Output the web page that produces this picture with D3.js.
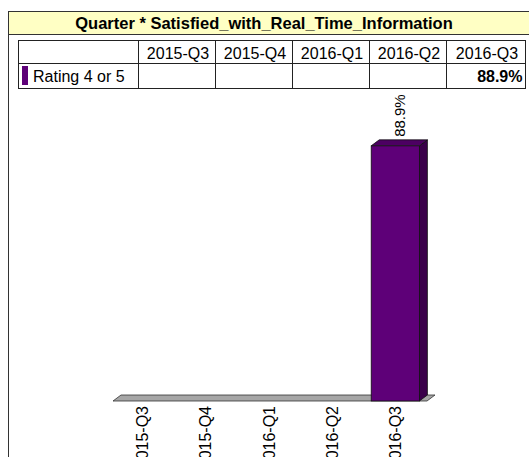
<!DOCTYPE html>
<html>
<head>
  <meta charset="utf-8">
  <script src="https://cdn.jsdelivr.net/npm/d3@7/dist/d3.min.js"></script>
  <style>
    body { margin: 0; background: white; }
    svg { display: block; font-family: "Liberation Sans", Arial, sans-serif; }
  </style>
</head>
<body>
  <svg id="chart" width="529" height="457"></svg>

  <script>
    var quarters = ['2015-Q3', '2015-Q4', '2016-Q1', '2016-Q2', '2016-Q3'];
    var seriesName = 'Rating 4 or 5';
    var values = [null, null, null, null, 88.9];  //percent, blank quarters have no value
    var title = 'Quarter * Satisfied_with_Real_Time_Information';

    var svg = d3.select('#chart');
    var purple = '#5e0078';
    var depth = [8, -6];  //3d offset of bars and floor

    //outer frame and title bar
    svg.append('rect')
      .attr('x', 8.5).attr('y', 11.5)
      .attr('width', 540).attr('height', 460)
      .attr('fill', 'white').attr('stroke', '#333');

    svg.append('rect')
      .attr('x', 8.5).attr('y', 11.5)
      .attr('width', 540).attr('height', 23)
      .attr('fill', '#ffffc4').attr('stroke', '#333');

    svg.append('text')
      .attr('x', 264).attr('y', 28.5)
      .attr('text-anchor', 'middle')
      .attr('font-size', 16.5).attr('font-weight', 'bold')
      .text(title);

    //data table
    var colX = [18.5, 138.5, 215.5, 292.5, 369.5, 446.5, 525.5];
    var rowY = [40.5, 63.5, 88.5];
    var table = svg.append('g');

    table.append('rect')
      .attr('x', colX[0]).attr('y', rowY[0])
      .attr('width', colX[6] - colX[0]).attr('height', rowY[2] - rowY[0])
      .attr('fill', 'white').attr('stroke', '#222');

    table.append('line')
      .attr('x1', colX[0]).attr('x2', colX[6])
      .attr('y1', rowY[1]).attr('y2', rowY[1])
      .attr('stroke', '#222');

    table.selectAll('.col-line')
      .data(colX.slice(1, 6))
      .enter().append('line')
      .attr('x1', d => d).attr('x2', d => d)
      .attr('y1', rowY[0]).attr('y2', rowY[2])
      .attr('stroke', '#222');

    table.selectAll('.head')
      .data(quarters)
      .enter().append('text')
      .attr('x', (d, i) => (colX[i + 1] + colX[i + 2]) / 2 + 1)
      .attr('y', 58.5)
      .attr('text-anchor', 'middle')
      .attr('font-size', 16)
      .text(d => d);

    table.append('rect')
      .attr('x', 22).attr('y', 66)
      .attr('width', 6).attr('height', 19)
      .attr('fill', purple);

    table.append('text')
      .attr('x', 33).attr('y', 82)
      .attr('font-size', 16)
      .text(seriesName);

    table.selectAll('.val')
      .data(values)
      .enter().append('text')
      .attr('x', (d, i) => colX[i + 2] - 3)
      .attr('y', 82)
      .attr('text-anchor', 'end')
      .attr('font-size', 16).attr('font-weight', 'bold')
      .text(d => d == null ? '' : d.toFixed(1) + '%');

    //scales
    var x = d3.scaleBand()
      .domain(quarters)
      .range([110, 427])
      .paddingInner(0.24)
      .paddingOuter(0.12);

    var y = d3.scaleLinear()
      .domain([0, 100])
      .range([401, 114]);

    //floor
    var fx0 = 113, fx1 = 427, fy = y(0);
    svg.append('path')
      .attr('d', `M${fx0},${fy}L${fx1},${fy}L${fx1 + depth[0]},${fy + depth[1]}L${fx0 + depth[0]},${fy + depth[1]}Z`)
      .attr('fill', '#a6a6a6').attr('stroke', '#333').attr('stroke-width', 0.8);

    //3d bars
    var bars = svg.selectAll('.bar')
      .data(quarters.map((q, i) => ({ q: q, v: values[i] })).filter(d => d.v != null))
      .enter().append('g');

    bars.append('path')  //side
      .attr('d', d => {
        var x1 = x(d.q) + x.bandwidth(), yt = y(d.v), yb = y(0);
        return `M${x1},${yt}L${x1 + depth[0]},${yt + depth[1]}L${x1 + depth[0]},${yb + depth[1]}L${x1},${yb}Z`;
      })
      .attr('fill', '#3a004a').attr('stroke', '#111').attr('stroke-width', 0.8);

    bars.append('path')  //top
      .attr('d', d => {
        var x0 = x(d.q), x1 = x0 + x.bandwidth(), yt = y(d.v);
        return `M${x0},${yt}L${x0 + depth[0]},${yt + depth[1]}L${x1 + depth[0]},${yt + depth[1]}L${x1},${yt}Z`;
      })
      .attr('fill', '#4c0062').attr('stroke', '#111').attr('stroke-width', 0.8);

    bars.append('rect')  //front
      .attr('x', d => x(d.q))
      .attr('y', d => y(d.v))
      .attr('width', x.bandwidth())
      .attr('height', d => y(0) - y(d.v))
      .attr('fill', purple).attr('stroke', '#111').attr('stroke-width', 0.8);

    bars.append('text')
      .attr('transform', d => `translate(${x(d.q) + x.bandwidth() / 2 + depth[0] / 2 + 6},${y(d.v) - 9}) rotate(-90)`)
      .attr('font-size', 15)
      .text(d => d.v.toFixed(1) + '%');

    //x axis labels
    svg.selectAll('.xlab')
      .data(quarters)
      .enter().append('text')
      .attr('transform', d => `translate(${x(d) + x.bandwidth() / 2 + 6},406) rotate(-90)`)
      .attr('text-anchor', 'end')
      .attr('font-size', 16)
      .text(d => d);
  </script>
</body>
</html>
